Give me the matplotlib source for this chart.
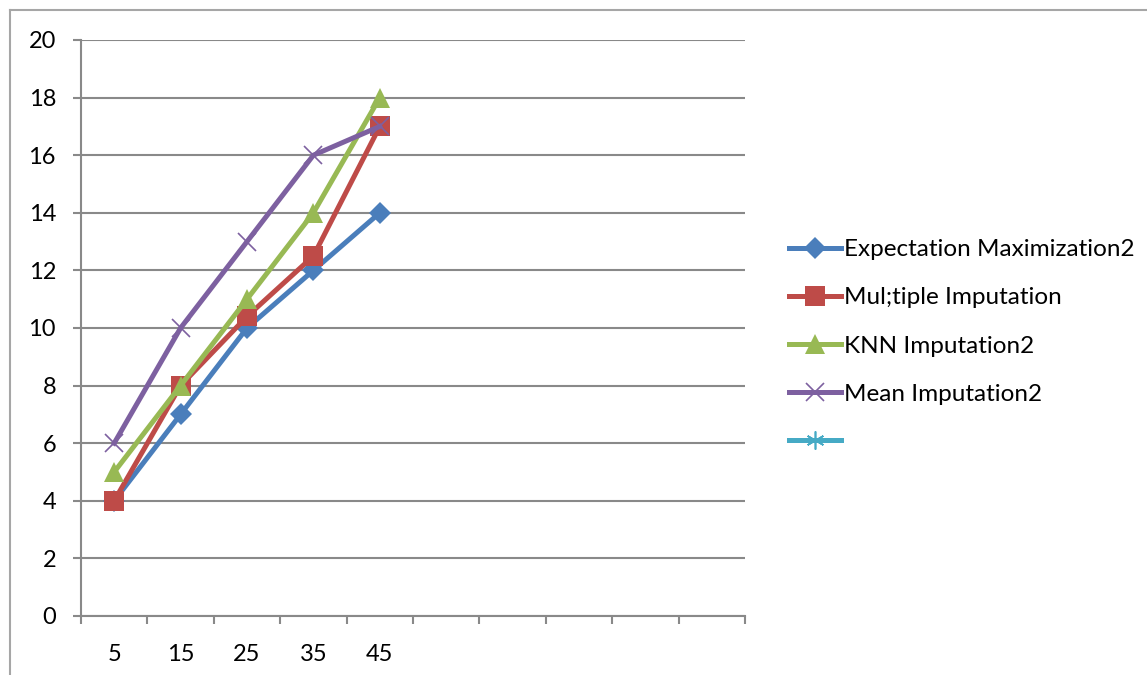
import matplotlib.pyplot as plt
from matplotlib.lines import Line2D
import numpy as np

plt.rcParams['font.family'] = ['Lato', 'DejaVu Sans']

categories = ['5', '15', '25', '35', '45']
n_slots = 10  # category axis has room for 10 points, only 5 used

em = [4, 7, 10, 12, 14]
multiple = [4, 8, 10.4, 12.5, 17]
knn = [5, 8, 11, 14, 18]
mean_imp = [6, 10, 13, 16, 17]

series = [
    ('Expectation Maximization2', em, '#4a7ebb', 'D', 11),
    ('Mul;tiple Imputation', multiple, '#be4b48', 's', 14),
    ('KNN Imputation2', knn, '#98b954', '^', 15),
    ('Mean Imputation2', mean_imp, '#7d60a0', 'x', 13),
]

fig = plt.figure(figsize=(11.47, 6.75), dpi=100)
ax = fig.add_axes([81 / 1147, 1 - 616 / 675, 664 / 1147, 576 / 675])

x = np.arange(len(categories))
handles, labels = [], []
for name, vals, col, mk, ms in series:
    mew = 1.2 if mk == 'x' else 0
    h, = ax.plot(x, vals, color=col, lw=3.6, marker=mk, ms=ms,
                 markeredgewidth=mew, markeredgecolor=col, zorder=3)
    handles.append(h)
    labels.append(name)

# empty fifth series, only shows up in the legend
h5, = ax.plot([], [], color='#46aac5', lw=3.6, marker=(6, 2, 0), ms=13,
              markeredgewidth=1.2, markeredgecolor='#46aac5')
handles.append(h5)
labels.append('')

grid_col = '#898989'
ax.set_xlim(-0.5, n_slots - 0.5)
ax.set_ylim(0, 20)
ax.set_yticks(range(0, 21, 2))
ax.yaxis.grid(True, color=grid_col, lw=1.5)
ax.set_axisbelow(True)

ax.set_xticks(np.arange(-0.5, n_slots, 1.0))
ax.set_xticklabels([])
ax.set_xticks(x, minor=True)
ax.set_xticklabels(categories, minor=True)
ax.tick_params(axis='x', which='major', length=6, width=1.5, color=grid_col)
ax.tick_params(axis='x', which='minor', length=0, pad=20, labelsize=17)
ax.tick_params(axis='y', length=6, width=1.5, color=grid_col, pad=12, labelsize=17)

for s in ['top', 'right']:
    ax.spines[s].set_visible(False)
for s in ['left', 'bottom']:
    ax.spines[s].set_color(grid_col)
    ax.spines[s].set_linewidth(1.5)

ax.legend(handles, labels, loc='center left', bbox_to_anchor=(777 / 1147, 1 - 346 / 675),
          bbox_transform=fig.transFigure, frameon=False, fontsize=17.5,
          handlelength=2.15, handletextpad=0.12, labelspacing=1.12, borderpad=0)

# outer chart border
border = '#a6a6a6'
fig.add_artist(Line2D([10 / 1147, 10 / 1147], [0, 1 - 10 / 675], color=border, lw=1.5))
fig.add_artist(Line2D([10 / 1147, 1], [1 - 10 / 675, 1 - 10 / 675], color=border, lw=1.5))

fig.savefig('out.png', dpi=100)
